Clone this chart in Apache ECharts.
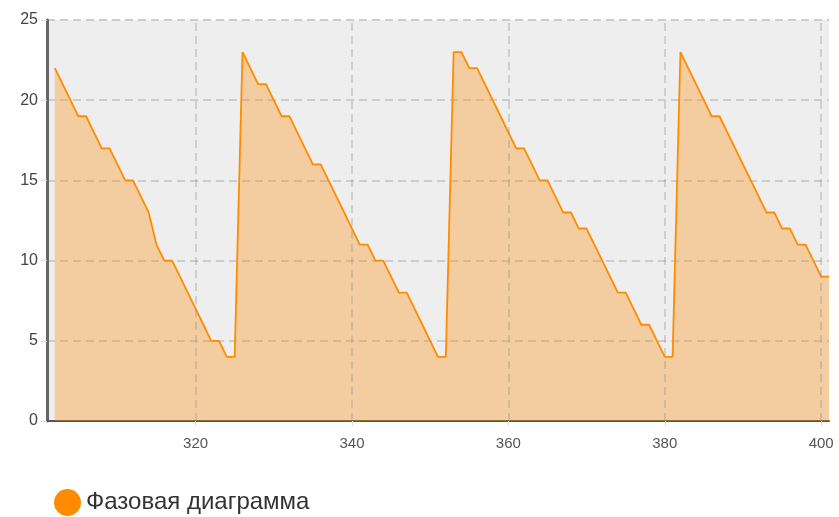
<!DOCTYPE html>
<html>
<head>
<meta charset="utf-8">
<script src="https://cdn.jsdelivr.net/npm/echarts@6/dist/echarts.min.js"></script>
<style>html,body{margin:0;padding:0;background:#fff}#c{width:839px;height:517px}</style>
</head>
<body>
<div id="c"></div>
<script>
const seriesName = 'Фазовая диаграмма';
const xValues = [302,303,304,305,306,307,308,309,310,311,312,313,314,315,316,317,318,319,320,321,322,323,324,325,
  326,327,328,329,330,331,332,333,334,335,336,337,338,339,340,341,342,343,344,345,346,347,348,349,350,351,352,
  353,354,355,356,357,358,359,360,361,362,363,364,365,366,367,368,369,370,371,372,373,374,375,376,377,378,379,380,381,
  382,383,384,385,386,387,388,389,390,391,392,393,394,395,396,397,398,399,400,401];
const yValues = [22,21,20,19,19,18,17,17,16,15,15,14,13,11,10,10,9,8,7,6,5,5,4,4,
  23,22,21,21,20,19,19,18,17,16,16,15,14,13,12,11,11,10,10,9,8,8,7,6,5,4,4,
  23,23,22,22,21,20,19,18,17,17,16,15,15,14,13,13,12,12,11,10,9,8,8,7,6,6,5,4,4,
  23,22,21,20,19,19,18,17,16,15,14,13,13,12,12,11,11,10,9,9];
const xTicks = [320,340,360,380,400];

const chart = echarts.init(document.getElementById('c'), null, {renderer: 'canvas'});
const data = xValues.map((x, i) => [x, yValues[i]]);
const font = 'Liberation Sans, Arial, sans-serif';
chart.setOption({
  animation: false,
  backgroundColor: '#ffffff',
  grid: {left: 47, right: 10, top: 20, bottom: 96, show: true, backgroundColor: '#eeeeee', borderWidth: 0, containLabel: false},
  legend: {
    left: 49, top: 484, icon: 'circle', itemWidth: 27, itemHeight: 27, itemGap: 10,
    textStyle: {fontFamily: font, fontSize: 24, color: '#333'},
    data: [seriesName]
  },
  xAxis: {
    type: 'value', min: 301, max: 401,
    axisLine: {show: true, lineStyle: {color: '#555', width: 2}},
    axisTick: {show: true, length: 5, lineStyle: {color: '#ddd'}, customValues: xTicks},
    axisLabel: {show: true, margin: 15, fontSize: 15, color: '#555', fontFamily: font, customValues: xTicks},
    splitLine: {show: false}
  },
  yAxis: {
    type: 'value', min: 0, max: 25, interval: 5,
    axisLine: {show: true, lineStyle: {color: '#666', width: 3}},
    axisTick: {show: true, length: 6, lineStyle: {color: '#ddd'}},
    axisLabel: {margin: 9, fontSize: 16, color: '#444', fontFamily: font},
    splitLine: {show: true, lineStyle: {color: '#cccccc', width: 2, type: [8, 5]}}
  },
  series: [{
    name: seriesName,
    type: 'line',
    data: data,
    showSymbol: false,
    symbol: 'none',
    lineStyle: {color: '#ff8c00', width: 1.8},
    itemStyle: {color: '#ff8c00'},
    areaStyle: {color: '#ff8c00', opacity: 0.33},
    markLine: {
      silent: true, symbol: 'none', label: {show: false}, animation: false,
      lineStyle: {color: 'rgba(150,150,150,0.35)', width: 2, type: [8, 5]},
      data: xTicks.map(v => ({xAxis: v}))
    },
    z: 2
  }]
});
</script>
</body>
</html>
